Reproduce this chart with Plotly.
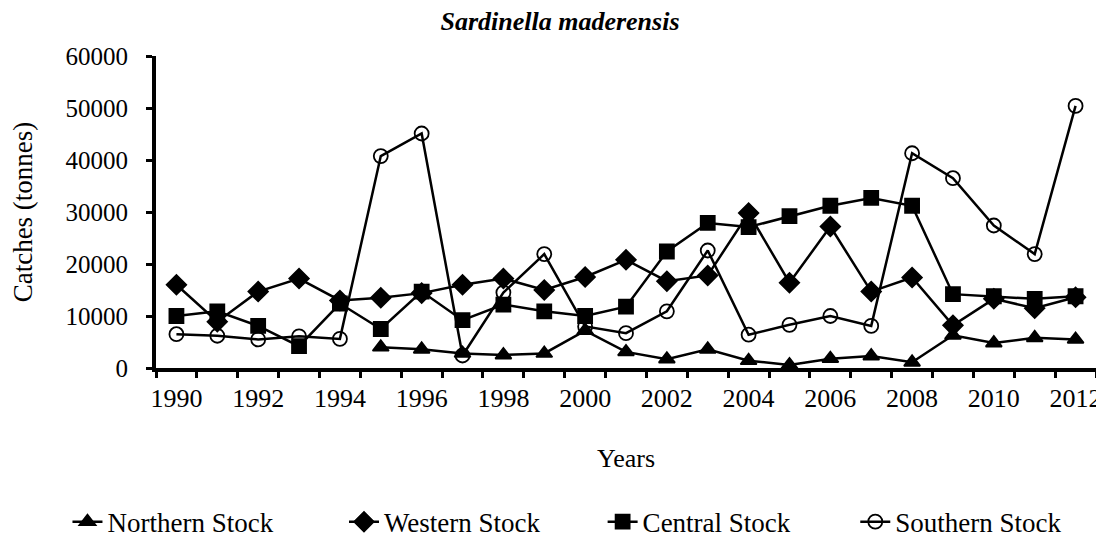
import plotly.graph_objects as go

years = list(range(1990, 2013))

northern = [None, None, None, None, None, 4000, 3600, 2800, 2500, 2800, 7200, 3100,
            1700, 3600, 1400, 600, 1800, 2300, 1100, 6300, 4800, 5800, 5500]
western = [16000, 8900, 14700, 17200, 13000, 13500, 14400, 16000, 17200, 15000, 17500, 20800,
           16700, 17800, 29800, 16400, 27200, 14700, 17400, 8200, 13300, 11500, 13600]
central = [10000, 10900, 8100, 4200, 12400, 7500, 14700, 9200, 12200, 10900, 10000, 11800,
           22400, 27900, 27100, 29200, 31200, 32700, 31200, 14200, 13800, 13300, 13800]
southern = [6500, 6200, 5500, 6100, 5600, 40750, 45100, 2400, 14500, 21900, 8000, 6700,
            10900, 22600, 6400, 8300, 10000, 8100, 41300, 36500, 27400, 21900, 50400]

FONT = "Liberation Serif, Times New Roman, serif"

fig = go.Figure()

# one legend per series so each entry can sit where the original has it
series = [
    ("Northern Stock", northern, "triangle-up", 14, "legend"),
    ("Western Stock", western, "diamond", 15, "legend2"),
    ("Central Stock", central, "square", 14, "legend3"),
    ("Southern Stock", southern, "circle-open", 14, "legend4"),
]
for name, vals, sym, size, leg in series:
    fig.add_trace(go.Scatter(
        x=years, y=vals, name=name, mode="lines+markers",
        line=dict(color="black", width=2.5),
        marker=dict(symbol=sym, size=size, color="black", line=dict(color="black", width=1.8)),
        legend=leg, connectgaps=False,
    ))

leg_common = dict(orientation="h", yanchor="middle", y=-0.494, xanchor="left",
                  font=dict(family=FONT, size=27, color="black"), bgcolor="rgba(0,0,0,0)")
# text starts at ~107, 385, 645, 899 px; plot area starts at 148 px and is 945 px wide
for leg, px in [("legend", 107), ("legend2", 385), ("legend3", 645), ("legend4", 899)]:
    fig.update_layout({leg: dict(x=(px - 48 - 148) / 945, **leg_common)})

fig.update_layout(
    width=1104, height=549,
    margin=dict(l=148, r=11, t=48, b=180),
    plot_bgcolor="white", paper_bgcolor="white",
    font=dict(family=FONT, size=26, color="black"),
    title=dict(text="<b><i>Sardinella maderensis</i></b>", x=0.5, xanchor="center",
               y=1 - 4 / 549, yanchor="top", font=dict(family=FONT, size=26, color="black")),
    showlegend=True,
)

fig.update_xaxes(
    range=[1989.5, 2012.5], tickmode="array", tickvals=years[::2], ticks="",
    showline=True, linecolor="black", linewidth=3.5, showgrid=False, zeroline=False,
    ticklabelstandoff=4, tickfont=dict(size=26),
    minor=dict(tick0=1989.5, dtick=1, ticks="outside", ticklen=6, tickwidth=3, tickcolor="black",
               showgrid=False),
    title=dict(text="Years", standoff=38, font=dict(family=FONT, size=26)),
)
fig.update_yaxes(
    range=[0, 60000], tickmode="linear", tick0=0, dtick=10000, tickformat="d", ticks="outside",
    ticklen=6, tickwidth=3, tickcolor="black",
    showline=True, linecolor="black", linewidth=4, showgrid=False, zeroline=False,
    ticklabelstandoff=13, tickfont=dict(size=25),
    title=dict(text="Catches (tonnes)", standoff=27, font=dict(family=FONT, size=27)),
)

fig.write_html("out.html")
